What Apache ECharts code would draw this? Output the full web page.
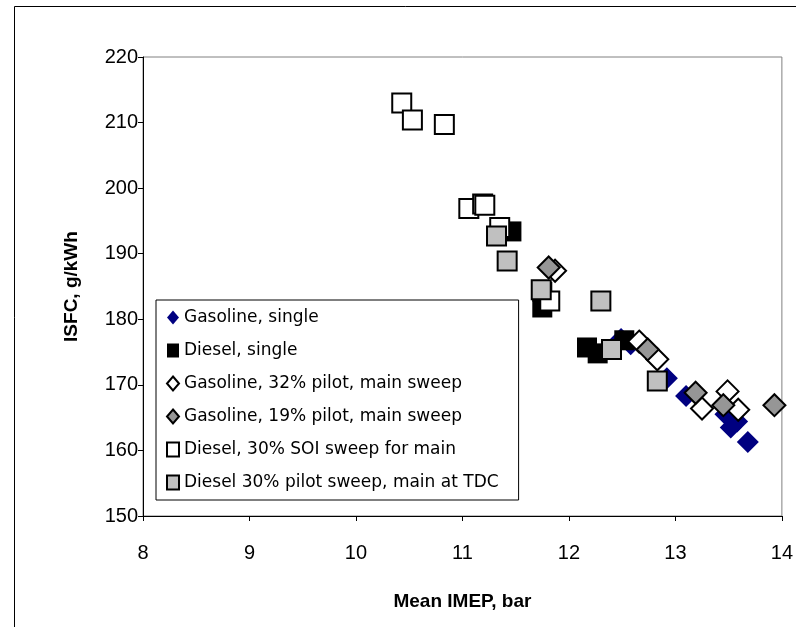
<!DOCTYPE html>
<html>
<head>
<meta charset="utf-8">
<script src="https://cdn.jsdelivr.net/npm/echarts@6/dist/echarts.min.js"></script>
<style>html,body{margin:0;padding:0;background:#fff;}#c{width:796px;height:627px;}</style>
</head>
<body>
<div id="c"></div>
<script>
// Data: [Mean IMEP (bar), ISFC (g/kWh)]
const gasolineSingle = [[12.49,177.0],[12.58,176.2],[12.92,171.0],[13.10,168.3],[13.47,165.5],[13.52,163.5],[13.58,164.4],[13.68,161.3]];
const dieselSingle = [[11.46,193.4],[11.75,184.2],[11.75,181.8],[12.17,175.7],[12.27,174.8],[12.52,176.8]];
const gasoline32Pilot = [[11.87,187.4],[12.66,176.6],[12.83,173.9],[13.25,166.4],[13.49,169.0],[13.59,166.2]];
const gasoline19Pilot = [[11.81,187.9],[12.74,175.4],[13.19,168.8],[13.45,166.9],[13.93,166.9]];
const dieselSoiSweep = [[10.43,213.0],[10.53,210.4],[10.83,209.7],[11.06,196.9],[11.19,197.6],[11.21,197.4],[11.35,194.0],[11.82,182.8]];
const dieselPilotSweep = [[11.32,192.7],[11.42,188.9],[11.74,184.5],[12.30,182.8],[12.40,175.4],[12.83,170.6]];
const seriesNames = ["Gasoline, single","Diesel, single","Gasoline, 32% pilot, main sweep","Gasoline, 19% pilot, main sweep","Diesel, 30% SOI sweep for main","Diesel 30% pilot sweep, main at TDC"];

const font = "'Liberation Sans Narrow', 'Liberation Sans', Arial, sans-serif";
const legendFont = "'DejaVu Sans', 'Liberation Sans', Arial, sans-serif";
const chart = echarts.init(document.getElementById('c'));
function sc(name, data, symbol, size, fill, border, bw) {
  return {
    name: name, type: 'scatter', data: data, symbol: symbol, symbolSize: size,
    itemStyle: { color: fill, borderColor: border, borderWidth: bw, opacity: 1 },
    emphasis: { disabled: true }
  };
}
chart.setOption({
  animation: false,
  backgroundColor: '#fff',
  graphic: [{ type: 'rect', left: 12, top: 4, shape: { width: 820, height: 700 }, style: { fill: 'none', stroke: '#000', lineWidth: 1 }, z: -1 }],
  grid: { left: 143, right: 14, top: 57, bottom: 111, show: true, borderColor: '#808080', borderWidth: 1 },
  xAxis: {
    type: 'value', min: 8, max: 14, interval: 1,
    name: 'Mean IMEP, bar', nameLocation: 'middle', nameGap: 76,
    nameTextStyle: { fontFamily: font, fontSize: 19, fontWeight: 'bold', color: '#000' },
    axisLine: { show: true, onZero: false, lineStyle: { color: '#000', width: 1 } },
    axisTick: { show: true, inside: false, length: 5, lineStyle: { color: '#000' } },
    axisLabel: { fontFamily: font, fontSize: 20, color: '#000', margin: 27 },
    splitLine: { show: false }
  },
  yAxis: {
    type: 'value', min: 150, max: 220, interval: 10,
    name: 'ISFC, g/kWh', nameLocation: 'middle', nameGap: 62, nameRotate: 90,
    nameTextStyle: { fontFamily: font, fontSize: 19, fontWeight: 'bold', color: '#000' },
    axisLine: { show: true, onZero: false, lineStyle: { color: '#000', width: 1 } },
    axisTick: { show: true, inside: false, length: 5, lineStyle: { color: '#000' } },
    axisLabel: { fontFamily: font, fontSize: 20, color: '#000', margin: 5 },
    splitLine: { show: false }
  },
  legend: {
    data: seriesNames, orient: 'vertical', left: 156, top: 300,
    backgroundColor: '#fff', borderColor: '#000', borderWidth: 1,
    padding: [9, 20, 9, 10], itemGap: 16, itemWidth: 12, itemHeight: 14,
    textStyle: { fontFamily: legendFont, fontSize: 17, color: '#000', padding: [0, 0, 0, 0] },
    selectedMode: false
  },
  series: [
    sc(seriesNames[0], gasolineSingle, 'diamond', 22, '#000080', '#000080', 0),
    sc(seriesNames[1], dieselSingle, 'rect', 20, '#000000', '#000000', 0),
    sc(seriesNames[2], gasoline32Pilot, 'diamond', 22, '#ffffff', '#000000', 2),
    sc(seriesNames[3], gasoline19Pilot, 'diamond', 22, '#969696', '#000000', 2),
    sc(seriesNames[4], dieselSoiSweep, 'rect', 19, '#ffffff', '#000000', 2),
    sc(seriesNames[5], dieselPilotSweep, 'rect', 19, '#c0c0c0', '#000000', 2)
  ]
});
</script>
</body>
</html>
